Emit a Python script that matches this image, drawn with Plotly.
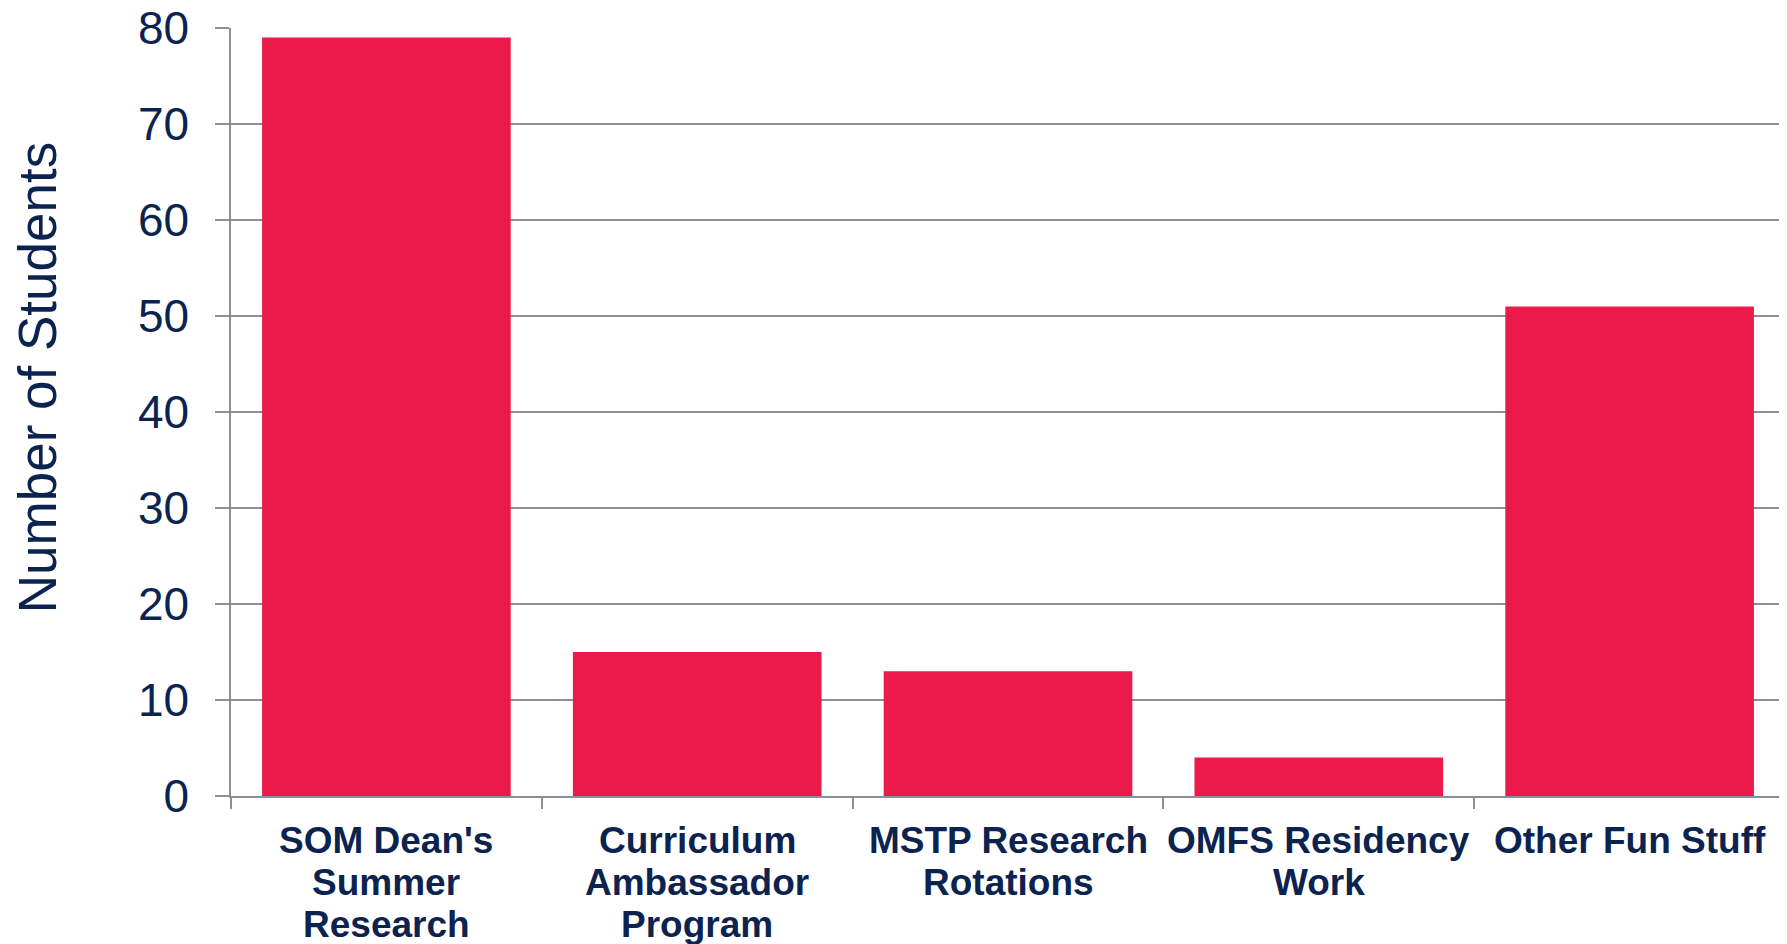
import plotly.graph_objects as go

categories = ["SOM Dean's<br>Summer<br>Research", "Curriculum<br>Ambassador<br>Program",
              "MSTP Research<br>Rotations", "OMFS Residency<br>Work", "Other Fun Stuff"]
students = [79, 15, 13, 4, 51]
y_ticks = [0, 10, 20, 30, 40, 50, 60, 70, 80]
y_title = "Number of Students"

NAVY = "#0C2350"
BAR = "#EC1A4B"
GRID = "#8C8F98"
FONT = "Liberation Sans, Arial, sans-serif"

fig = go.Figure(go.Bar(x=categories, y=students, marker=dict(color=BAR, line=dict(width=0))))

# x labels as annotations, one per line, for tight line spacing
for cat in categories:
    for i, line in enumerate(cat.split("<br>")):
        fig.add_annotation(x=cat, y=0, xref="x", yref="paper", text="<b>%s</b>" % line,
                           showarrow=False, yanchor="top", xanchor="center",
                           yshift=-22 - i * 42,
                           font=dict(family=FONT, size=37, color=NAVY))

fig.add_annotation(x=0, y=0.544, xref="paper", yref="paper", text=y_title, textangle=-90,
                   showarrow=False, xanchor="center", yanchor="middle", xshift=-194,
                   font=dict(family=FONT, size=53, color=NAVY))

fig.update_layout(
    width=1779, height=936,
    margin=dict(l=223, r=2, t=20, b=148, autoexpand=False),
    paper_bgcolor="white", plot_bgcolor="white",
    bargap=0.2, showlegend=False,
    font=dict(family=FONT, color=NAVY),
)
fig.update_xaxes(showticklabels=False, showline=True, linecolor=GRID, linewidth=1.5,
                 ticks="outside", tickson="boundaries", ticklen=11, tickcolor=GRID, tickwidth=1.5,
                 showgrid=False, automargin=False)
fig.update_yaxes(range=[0, 80], tickvals=y_ticks, showgrid=True, gridcolor=GRID, gridwidth=1.5,
                 showline=True, linecolor=GRID, linewidth=1.5, ticks="outside", ticklen=14,
                 tickcolor=GRID, tickwidth=1.5, zeroline=False, ticklabeloverflow="allow",
                 automargin=False,
                 tickfont=dict(family=FONT, size=46, color=NAVY), ticklabelstandoff=17)

fig.write_html("out.html")
